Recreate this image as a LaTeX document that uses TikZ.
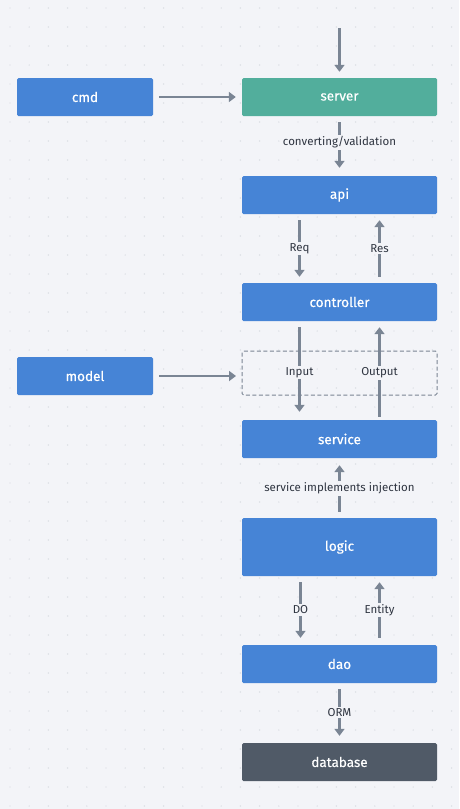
\documentclass[tikz,border=0pt]{standalone}
\usepackage{fontspec}
\setmainfont{Fira Sans}
\newfontfamily\boxfont{Fira Sans}[FakeBold=0.5]
\usetikzlibrary{arrows.meta}
\definecolor{bgcol}{HTML}{F3F4F8}
\definecolor{dotcol}{HTML}{D5D8DF}
\definecolor{layerblue}{HTML}{4684D6}
\definecolor{layerteal}{HTML}{52AE9C}
\definecolor{layerdark}{HTML}{505A67}
\definecolor{flowgray}{HTML}{7A8594}
\definecolor{textdark}{HTML}{2E3440}
\tikzset{
  layer/.style={fill=layerblue, text=white, rounded corners=1.5pt, inner sep=0pt,
    minimum width=195pt, minimum height=38pt, font=\boxfont\fontsize{13.5}{15}\selectfont},
  side/.style={layer, minimum width=136pt},
  flow/.style={draw=flowgray, line width=2.8pt,
    -{Triangle[width=10pt,length=7pt]}},
  tag/.style={fill=bgcol, text=textdark, inner sep=1.5pt,
    font=\fontsize{11.5}{13}\selectfont}
}
\begin{document}
\begin{tikzpicture}[x=1pt,y=-1pt]
  \useasboundingbox[fill=bgcol] (0,0) rectangle (459,809);
  % dot grid
  \foreach \i in {0,...,23}
    \foreach \j in {0,...,42}
      \fill[dotcol] (10+19.2*\i,8+19*\j) circle (0.7pt);
  % layers
  \draw
    (85,97) node[side] (cmd){cmd}
    (339.5,97) node[layer, fill=layerteal] (server){server}
    (339.5,195) node[layer] (api){api}
    (339.5,302) node[layer] (controller){controller}
    (85,376) node[side] (model){model}
    (339.5,439) node[layer] (service){service}
    (339.5,547) node[layer, minimum height=58pt] (logic){logic}
    (339.5,664) node[layer] (dao){dao}
    (339.5,762) node[layer, fill=layerdark] (database){database};
  \draw[flowgray, line width=1pt, dash pattern=on 4pt off 2.5pt, rounded corners=1.5pt]
    (242,351) rectangle (437,395);
  \coordinate (entry) at (339.5,28);
  \coordinate (modelin) at (236,376);
  % connectors
  \draw[flow] (entry) to ([yshift=6pt]server.north);
  \draw[flow] ([xshift=6pt]cmd.east) to ([xshift=-6pt]server.west);
  \draw[flow] ([yshift=-6pt]server.south) to node[tag, pos=0.44]{converting/validation} ([yshift=8pt]api.north);
  \draw[flow] ([xshift=-40pt,yshift=-6pt]api.south) to node[tag]{Req} ([xshift=-40pt,yshift=6pt]controller.north);
  \draw[flow] ([xshift=40pt,yshift=6pt]controller.north) to node[tag]{Res} ([xshift=40pt,yshift=-6pt]api.south);
  \draw[flow] ([xshift=6pt]model.east) to (modelin);
  \draw[flow] ([xshift=-40pt,yshift=-6pt]controller.south) to node[tag, pos=0.535]{Input} ([xshift=-40pt,yshift=8pt]service.north);
  \draw[flow] ([xshift=40pt,yshift=3pt]service.north) to node[tag, pos=0.49]{Output} ([xshift=40pt,yshift=-6pt]controller.south);
  \draw[flow] ([yshift=6pt]logic.north) to node[tag, pos=0.5]{service implements injection} ([yshift=-7pt]service.south);
  \draw[flow] ([xshift=-39pt,yshift=-6pt]logic.south) to node[tag]{DO} ([xshift=-39pt,yshift=7pt]dao.north);
  \draw[flow] ([xshift=40pt,yshift=7pt]dao.north) to node[tag]{Entity} ([xshift=40pt,yshift=-6pt]logic.south);
  \draw[flow] ([yshift=-6pt]dao.south) to node[tag]{ORM} ([yshift=7pt]database.north);
\end{tikzpicture}
\end{document}
